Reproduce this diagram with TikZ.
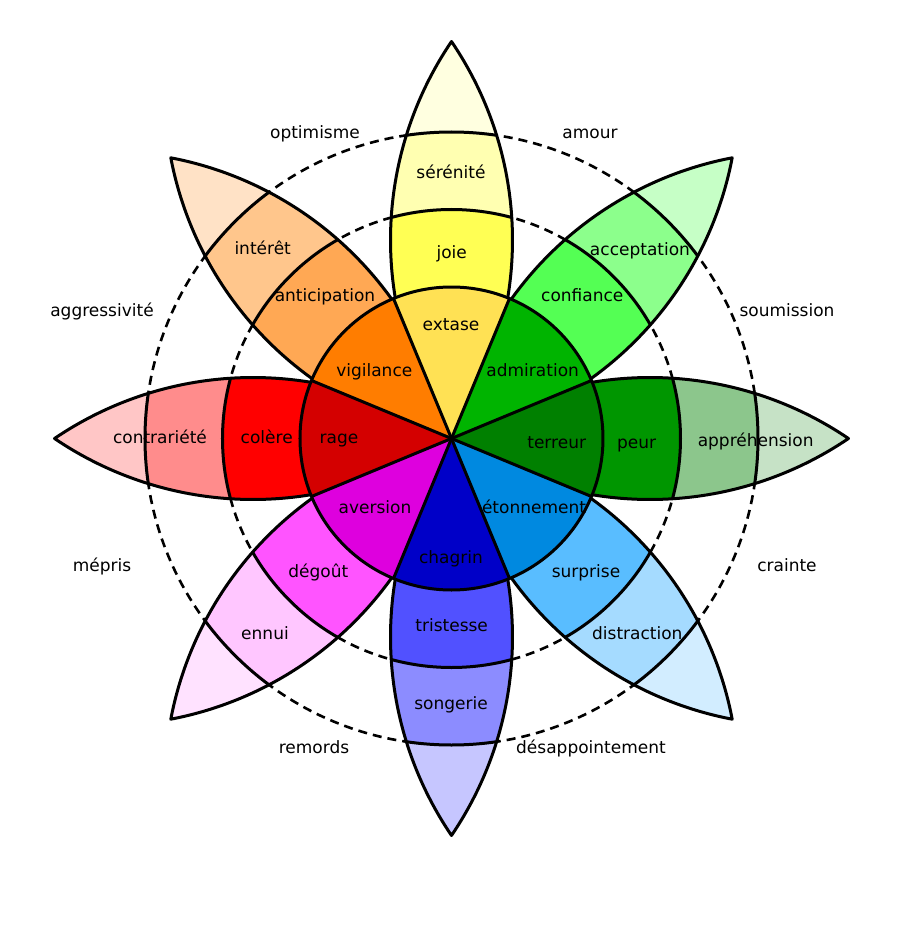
\documentclass[tikz,border=0pt]{standalone}
\usepackage{fontspec}
\setmainfont{DejaVu Sans}
\usepackage{tikz}
% joie
\definecolor{joyin}{RGB}{255,225,84}
\definecolor{joymid}{RGB}{255,255,84}
\definecolor{joyout}{RGB}{255,255,177}
\definecolor{joytip}{RGB}{255,255,224}
% confiance
\definecolor{trustin}{RGB}{0,180,0}
\definecolor{trustmid}{RGB}{84,255,84}
\definecolor{trustout}{RGB}{140,255,140}
\definecolor{trusttip}{RGB}{198,255,198}
% peur
\definecolor{fearin}{RGB}{0,128,0}
\definecolor{fearmid}{RGB}{0,150,0}
\definecolor{fearout}{RGB}{140,198,140}
\definecolor{feartip}{RGB}{198,226,198}
% surprise
\definecolor{surpin}{RGB}{0,137,224}
\definecolor{surpmid}{RGB}{89,189,255}
\definecolor{surpout}{RGB}{165,219,255}
\definecolor{surptip}{RGB}{210,237,255}
% tristesse
\definecolor{sadin}{RGB}{0,0,200}
\definecolor{sadmid}{RGB}{81,81,255}
\definecolor{sadout}{RGB}{140,140,255}
\definecolor{sadtip}{RGB}{198,198,255}
% degout
\definecolor{disgin}{RGB}{222,0,222}
\definecolor{disgmid}{RGB}{255,84,255}
\definecolor{disgout}{RGB}{255,198,255}
\definecolor{disgtip}{RGB}{255,226,255}
% colere
\definecolor{angin}{RGB}{212,0,0}
\definecolor{angmid}{RGB}{255,0,0}
\definecolor{angout}{RGB}{255,140,140}
\definecolor{angtip}{RGB}{255,198,198}
% anticipation
\definecolor{antin}{RGB}{255,125,0}
\definecolor{antmid}{RGB}{255,168,84}
\definecolor{antout}{RGB}{255,198,140}
\definecolor{anttip}{RGB}{255,226,198}
\tikzset{
  petalline/.style={line width=3pt, color=black, line join=round},
  ring/.style={line width=2.6pt, color=black, dash pattern=on 9pt off 6pt},
  emo/.style={font=\fontsize{17}{20}\selectfont, text=black,
    text height=15pt, text depth=2pt, inner sep=0pt}
}
\newcommand{\petal}{(0,0) arc[start angle=124.16, end angle=55.84, radius=353.5pt]
  arc[start angle=-55.84, end angle=-124.16, radius=353.5pt] -- cycle}

\begin{document}
\begin{tikzpicture}[x=1pt, y=1pt]
    \useasboundingbox (-451.5,-496.5) rectangle (448.5,438.5);
    \draw[ring] (0,0) circle[radius=229pt];
    \draw[ring] (0,0) circle[radius=306.5pt];
    % petals
    \foreach \ang/\cmid/\cout/\ctip in {90/joymid/joyout/joytip, 45/trustmid/trustout/trusttip,
        0/fearmid/fearout/feartip, -45/surpmid/surpout/surptip, -90/sadmid/sadout/sadtip,
        -135/disgmid/disgout/disgtip, 180/angmid/angout/angtip, 135/antmid/antout/anttip} {
      \begin{scope}[rotate=\ang]
        \begin{scope}
          \clip \petal;
          \fill[\ctip] \petal;
          \fill[\cout] (0,0) circle[radius=306.5pt];
          \fill[\cmid] (0,0) circle[radius=229pt];
          \draw[petalline] (0,0) circle[radius=229pt] (0,0) circle[radius=306.5pt];
        \end{scope}
        \draw[petalline] \petal;
      \end{scope}
    }
    % inner wheel
    \foreach \ang/\cin in {90/joyin, 45/trustin, 0/fearin, -45/surpin, -90/sadin,
        -135/disgin, 180/angin, 135/antin}
      \fill[\cin, rotate=\ang] (0,0) -- (-22.5:151.5pt) arc[start angle=-22.5, end angle=22.5, radius=151.5pt] -- cycle;
    \foreach \ang in {22.5,67.5,...,337.5}
      \draw[petalline] (0,0) -- (\ang:151.5pt);
    \draw[petalline] (0,0) circle[radius=151.5pt];

    \node[emo] (serenite) at (-0.5,266.8) {sérénité};
    \node[emo] (joie) at (0.2,186.8) {joie};
    \node[emo] (extase) at (-0.5,114.2) {extase};
    \node[emo] (acceptation) at (188.5,189.5) {acceptation};
    \node[emo] (confiance) at (130.8,143.2) {confiance};
    \node[emo] (admiration) at (81.2,68.5) {admiration};
    \node[emo] (apprehension) at (304.2,-1.5) {appréhension};
    \node[emo] (peur) at (185.2,-3.2) {peur};
    \node[emo] (terreur) at (105.2,-3.2) {terreur};
    \node[emo] (distraction) at (185.8,-194.2) {distraction};
    \node[emo] (surprise) at (134.5,-132.8) {surprise};
    \node[emo] (etonnement) at (82.5,-68.8) {étonnement};
    \node[emo] (songerie) at (-0.5,-264.8) {songerie};
    \node[emo] (tristesse) at (0.2,-186.5) {tristesse};
    \node[emo] (chagrin) at (-0.5,-118.2) {chagrin};
    \node[emo] (ennui) at (-186.5,-194.2) {ennui};
    \node[emo] (degout) at (-133.2,-132.5) {dégoût};
    \node[emo] (aversion) at (-76.5,-68.8) {aversion};
    \node[emo] (contrariete) at (-291.5,1.2) {contrariété};
    \node[emo] (colere) at (-184.8,1.2) {colère};
    \node[emo] (rage) at (-112.5,1.2) {rage};
    \node[emo] (interet) at (-188.8,190.2) {intérêt};
    \node[emo] (anticipation) at (-126.5,143.2) {anticipation};
    \node[emo] (vigilance) at (-77.2,68.5) {vigilance};
    % dyades
    \node[emo] (optimisme) at (-136.5,306.5) {optimisme};
    \node[emo] (amour) at (138.5,306.5) {amour};
    \node[emo] (soumission) at (335.5,128.5) {soumission};
    \node[emo] (crainte) at (335.5,-126.5) {crainte};
    \node[emo] (desappointement) at (139.5,-308.5) {désappointement};
    \node[emo] (remords) at (-137.5,-308.5) {remords};
    \node[emo] (mepris) at (-349.5,-126.5) {mépris};
    \node[emo] (aggressivite) at (-349.5,128.5) {aggressivité};
  \end{tikzpicture}
\end{document}
